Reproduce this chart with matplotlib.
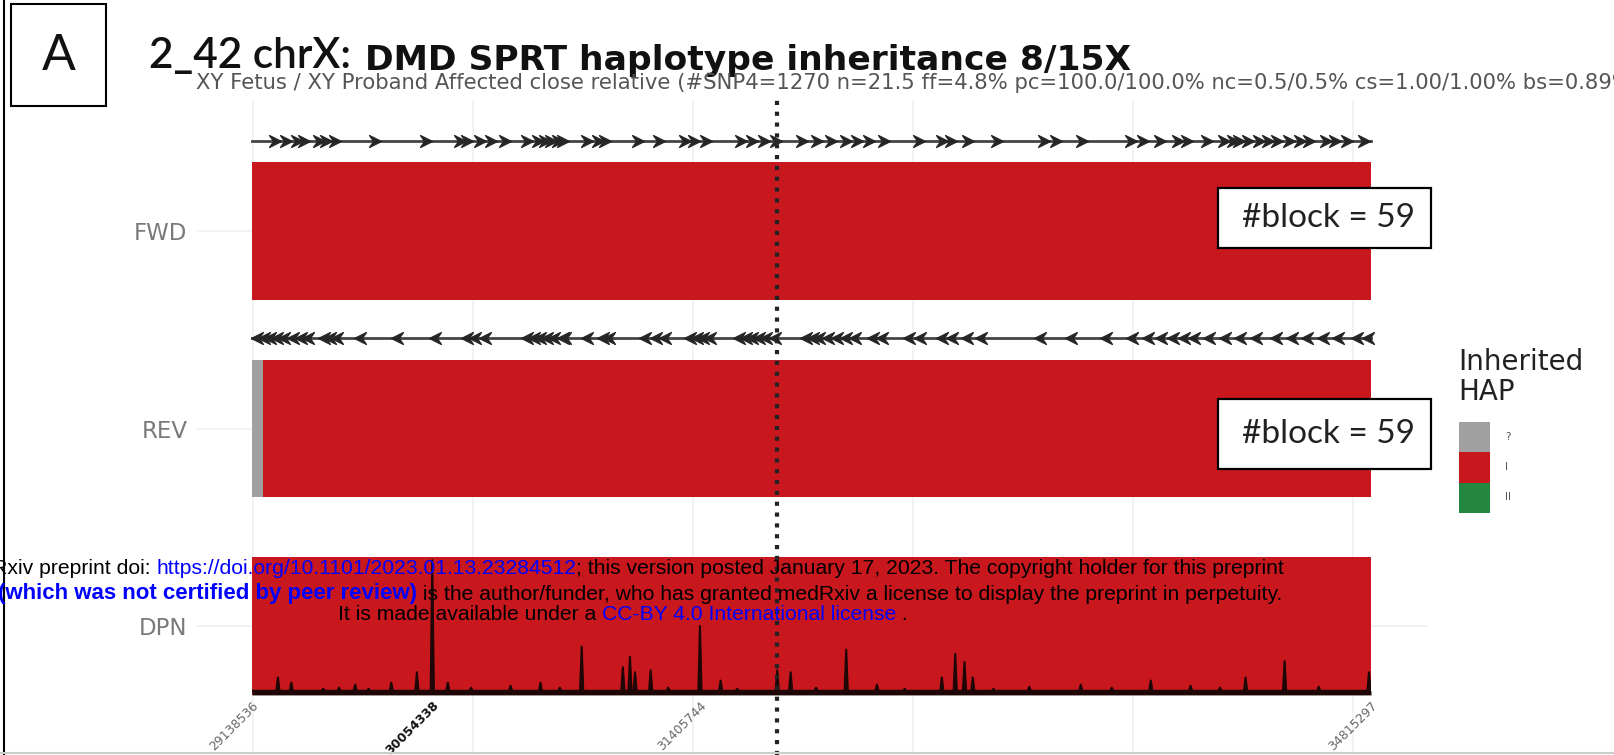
import numpy as np
import matplotlib.pyplot as plt
from matplotlib.patches import Rectangle
from matplotlib.path import Path

# ---- data (positions in Mb on chrX) ----
tracks = ["FWD", "REV", "DPN"]
track_y = [3, 2, 1]
chrom_start = 29.1385
chrom_end = 34.8153
rev_unknown_end = 29.192
marker_pos = 31.803
block_counts = [59, 59]

fwd_arrows = [29.253, 29.310, 29.367, 29.401, 29.480, 29.514, 29.559, 29.763, 30.023,
              30.193, 30.227, 30.295, 30.352, 30.420, 30.533, 30.589, 30.623, 30.657,
              30.691, 30.714, 30.839, 30.895, 30.929, 31.099, 31.201, 31.337, 31.382,
              31.441, 31.618, 31.677, 31.736, 31.796, 31.929, 32.003, 32.076, 32.150,
              32.209, 32.269, 32.343, 32.520, 32.638, 32.683, 32.771, 32.919, 33.155,
              33.215, 33.348, 33.599, 33.658, 33.747, 33.836, 33.880, 33.983, 34.072,
              34.116, 34.146, 34.190, 34.249, 34.293, 34.338, 34.397, 34.456, 34.500,
              34.589, 34.634, 34.692, 34.781]
rev_arrows = [29.163, 29.197, 29.231, 29.265, 29.299, 29.344, 29.389, 29.423, 29.503,
              29.536, 29.570, 29.684, 29.876, 30.069, 30.227, 30.272, 30.318, 30.533,
              30.567, 30.601, 30.635, 30.669, 30.714, 30.725, 30.839, 30.918, 30.952,
              31.133, 31.190, 31.235, 31.360, 31.394, 31.427, 31.461, 31.609, 31.643,
              31.677, 31.711, 31.745, 31.790, 31.948, 31.982, 32.016, 32.062, 32.107,
              32.152, 32.198, 32.288, 32.334, 32.469, 32.526, 32.638, 32.690, 32.768,
              32.836, 33.134, 33.291, 33.473, 33.604, 33.682, 33.750, 33.813, 33.865,
              33.917, 33.995, 34.074, 34.152, 34.230, 34.335, 34.413, 34.492, 34.570,
              34.648, 34.742, 34.800]

dpn_base = 4
dpn_peak_pos = [29.270, 29.338, 29.50, 29.58, 29.662, 29.73, 29.845, 29.975, 30.053,
                30.132, 30.25, 30.45, 30.602, 30.70, 30.811, 31.020, 31.056, 31.082,
                31.161, 31.25, 31.411, 31.516, 31.60, 31.803, 31.871, 32.0, 32.153,
                32.309, 32.45, 32.638, 32.706, 32.753, 32.795, 32.9, 33.082, 33.343,
                33.5, 33.698, 33.9, 34.05, 34.179, 34.377, 34.55, 34.805]
dpn_peak_depth = [17, 12, 6, 7, 10, 6, 12, 22, 131,
                  12, 7, 9, 12, 7, 47, 27, 37, 22,
                  24, 7, 67, 14, 6, 24, 22, 7, 44,
                  10, 6, 17, 40, 32, 17, 6, 8, 10,
                  7, 14, 9, 7, 17, 33, 8, 22]

tick_pos = [29.1385, 30.053, 31.411, 34.8153]
tick_labels = ["29138536", "30054338", "31405744", "34815297"]
tick_bold = [False, True, False, False]
grid_pos = [29.1436, 30.2597, 31.3757, 32.4918, 33.6079, 34.7240]

hap_labels = ["?", "I", "II"]
hap_colors = ["#a0a0a0", "#c8181e", "#23873f"]
red = hap_colors[1]

W, H = 1614, 755
fig = plt.figure(figsize=(W / 100, H / 100), dpi=100)


def fx(px):
    return px / W


def fy(py):
    return 1 - py / H


# ---- main track axes ----
ax = fig.add_axes([fx(197), fy(755), fx(1428 - 197), (755 - 100) / H])
mb_per_px = 0.005073
ax.set_xlim(chrom_start - 55 * mb_per_px, chrom_end + 57 * mb_per_px)
ax.set_ylim(3 - (755 - 231) / 197.5, 3 + (231 - 100) / 197.5)
half = 0.349
arrow_off = 0.456

ax.set_xticks(grid_pos)
ax.set_yticks(track_y, tracks)
ax.tick_params(axis="x", length=0, labelbottom=False)
ax.tick_params(axis="y", length=0, labelsize=16.5, labelcolor="#7a7a7a", pad=7)
ax.grid(True, color="#f0f0f0", lw=1.2)
ax.set_axisbelow(True)
for s in ax.spines.values():
    s.set_visible(False)

# FWD
ax.add_patch(Rectangle((chrom_start, 3 - half), chrom_end - chrom_start, 2 * half,
                       color=red, lw=0, zorder=2))
# REV
ax.add_patch(Rectangle((chrom_start, 2 - half), rev_unknown_end - chrom_start, 2 * half,
                       color=hap_colors[0], lw=0, zorder=2))
ax.add_patch(Rectangle((rev_unknown_end, 2 - half), chrom_end - rev_unknown_end, 2 * half,
                       color=red, lw=0, zorder=2))
# DPN
ax.add_patch(Rectangle((chrom_start, 1 - half), chrom_end - chrom_start, 2 * half,
                       color=red, lw=0, zorder=2))

# block arrows
chev_r = Path([(-1, 1), (1, 0), (-1, -1), (-0.3, 0), (-1, 1)],
              [Path.MOVETO, Path.LINETO, Path.LINETO, Path.LINETO, Path.CLOSEPOLY])
chev_l = Path([(1, 1), (-1, 0), (1, -1), (0.3, 0), (1, 1)],
              [Path.MOVETO, Path.LINETO, Path.LINETO, Path.LINETO, Path.CLOSEPOLY])
for yy, pos, mk in [(3 + arrow_off, fwd_arrows, chev_r), (2 + arrow_off, rev_arrows, chev_l)]:
    ax.plot([chrom_start, chrom_end], [yy, yy], color="#444444", lw=2, zorder=3)
    ax.plot(pos, [yy] * len(pos), ls="none", marker=mk, ms=8.5, color="#262626",
            mec="#262626", zorder=4)

# depth trace in DPN
ax_d = ax.inset_axes([chrom_start, 1 - half, chrom_end - chrom_start, 2 * half],
                     transform=ax.transData, zorder=3)
ax_d.set_xlim(chrom_start, chrom_end)
ax_d.set_ylim(0, 134)
ax_d.axis("off")
ax_d.patch.set_alpha(0)
xs = [chrom_start]
ys = [dpn_base]
for p, d in zip(dpn_peak_pos, dpn_peak_depth):
    xs += [p - 0.008, p, p + 0.008]
    ys += [dpn_base, d, dpn_base]
xs.append(chrom_end)
ys.append(dpn_base)
ax_d.fill_between(xs, 0, ys, color="#1e0606", lw=0)
ax_d.plot(xs, ys, color="#1e0606", lw=1.5)

# dotted marker line
ax.plot([marker_pos, marker_pos], ax.get_ylim(), color="#222222", lw=3,
        ls=(0, (1, 1.6)), zorder=6)

# x tick labels under DPN
for p, lab, b in zip(tick_pos, tick_labels, tick_bold):
    ax.text(p, 1 - half - 0.02, lab, rotation=45, ha="right", va="top",
            rotation_mode="anchor", fontsize=9,
            color="#111111" if b else "#666666", fontweight="bold" if b else "normal")

# ---- #block boxes ----
for (top, bot), n in zip([(188, 248), (399, 469)], block_counts):
    fig.add_artist(Rectangle((fx(1218), fy(bot)), fx(1431 - 1218), (bot - top) / H,
                             transform=fig.transFigure, facecolor="white",
                             edgecolor="black", lw=1.6, zorder=7))
    fig.text(fx(1328), fy((top + bot) / 2), f"#block = {n}", ha="center", va="center",
             fontsize=24, family="Lato", color="#222222", zorder=8)

# ---- legend ----
fig.text(fx(1458), fy(348), "Inherited\nHAP", ha="left", va="top", fontsize=20,
         color="#222222", linespacing=1.1)
lg = fig.add_axes([fx(1458.5), fy(513), fx(31), (513 - 422) / H])
lg.set_xlim(0, 1)
lg.set_ylim(0, 3)
lg.axis("off")
for i, c in enumerate(hap_colors):
    lg.add_patch(Rectangle((0, 2 - i), 1, 1, color=c, lw=0))
for i, lab in enumerate(hap_labels):
    fig.text(fx(1505), fy(437 + 30 * i), lab, ha="left", va="center", fontsize=7.5,
             color="#555555")

# ---- titles ----
fig.add_artist(Rectangle((fx(11), fy(106)), fx(95), 102 / H, transform=fig.transFigure,
                         facecolor="none", edgecolor="black", lw=1.5))
fig.text(fx(58.5), fy(56), "A", ha="center", va="center", fontsize=36,
         family="Lato", color="#111111")
fig.text(fx(149), fy(68), "2_42 chrX:", ha="left", va="baseline", fontsize=30.5,
         family="Lato", fontweight="semibold", color="#111111")
fig.text(fx(365), fy(70), "DMD SPRT haplotype inheritance 8/15X", ha="left",
         va="baseline", fontsize=24.8, fontweight="bold", color="#111111")
fig.text(fx(196), fy(83), "XY Fetus / XY Proband Affected close relative "
         "(#SNP4=1270 n=21.5 ff=4.8% pc=100.0/100.0% nc=0.5/0.5% cs=1.00/1.00% bs=0.89%)",
         ha="left", va="center", fontsize=15.2, color="#555555")

# frame lines
fig.add_artist(plt.Line2D([fx(4), fx(4)], [0, 1], color="black", lw=1.5,
                          transform=fig.transFigure))
fig.add_artist(plt.Line2D([0, 1], [fy(753), fy(753)], color="#cccccc", lw=1.5,
                          transform=fig.transFigure))

# ---- preprint watermark ----
wm = dict(fontsize=15.2, family="Liberation Sans", zorder=10)

t = fig.text(fx(156.5), fy(568), "medRxiv preprint doi: ", ha="right", va="center",
             color="black", **wm)
t = plt.annotate("https://doi.org/10.1101/2023.01.13.23284512", xy=(1, 0.5), xycoords=t,
                 va="center", ha="left", color="blue", **wm)
plt.annotate("; this version posted January 17, 2023. The copyright holder for this preprint",
             xy=(1, 0.5), xycoords=t, va="center", ha="left", color="black", **wm)

t = fig.text(fx(417), fy(594), "(which was not certified by peer review)", ha="right",
             va="center", color="blue", fontweight="bold", fontsize=16,
             family="Liberation Sans", zorder=10)
plt.annotate(" is the author/funder, who has granted medRxiv a license to display the "
             "preprint in perpetuity.", xy=(1, 0.5), xycoords=t, va="center", ha="left",
             color="black", **wm)

t = fig.text(fx(337.6), fy(615), "It is made available under a ", ha="left", va="center",
             color="black", **wm)
t = plt.annotate("CC-BY 4.0 International license", xy=(1, 0.5), xycoords=t, va="center",
                 ha="left", color="blue", **wm)
plt.annotate(" .", xy=(1, 0.5), xycoords=t, va="center", ha="left", color="black", **wm)

fig.savefig("out.png", dpi=100)
